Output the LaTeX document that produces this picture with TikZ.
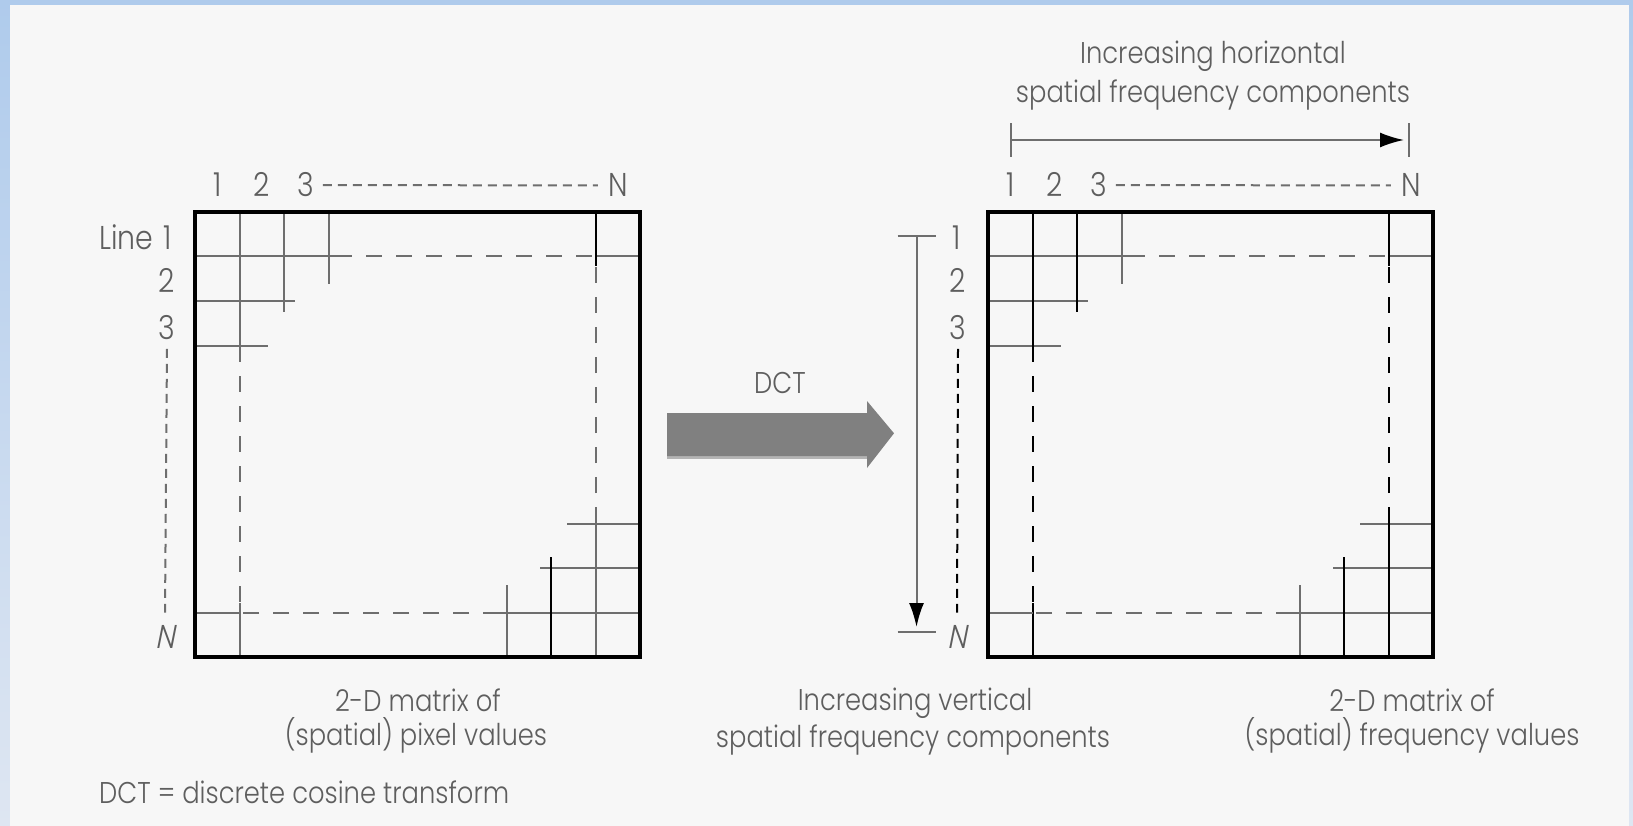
\documentclass[tikz,border=0pt]{standalone}
\usepackage{fontspec}
\usetikzlibrary{arrows.meta}
\IfFontExistsTF{Poppins Light}
  {\setmainfont{Poppins Light}[FakeStretch=0.86]
   \newfontfamily\slantfont{Poppins Light}[FakeStretch=0.86,FakeSlant=0.2]}
  {\setmainfont{Poppins}[FakeStretch=0.86]
   \newfontfamily\slantfont{Poppins}[FakeStretch=0.86,FakeSlant=0.2]}

\definecolor{bluetop}{HTML}{AFCBEC}
\definecolor{bluebot}{HTML}{DEE6F2}
\definecolor{bgfill}{HTML}{F7F7F7}
\definecolor{linegray}{HTML}{6E6E6E}
\definecolor{txtgray}{HTML}{5E5E5E}
\definecolor{arrowgray}{HTML}{808080}
\definecolor{shadowgray}{HTML}{B4B4B4}

% One N x N matrix with the staircase of cells in two corners.
% #1 = left edge, #2 = colour of the long column lines, #3 = colour of the last-column stub
\newcommand\dctmatrix[3]{%
\begin{scope}[shift={(#1,212)}]
  % top-left corner
  \draw[grid] (0,44.5) -- (157,44.5);
  \draw[gdash] (157,44.5) -- (400.5,44.5);
  \draw[grid] (400.5,44.5) -- (445,44.5);
  \draw[grid] (0,89) -- (100,89);
  \draw[grid] (0,133.5) -- (73,133.5);
  \draw[grid,#2] (44.5,0) -- (44.5,150);
  \draw[gdash,#2] (44.5,150) -- (44.5,391);
  \draw[grid,#2] (44.5,391) -- (44.5,445);
  \draw[grid,#2] (89,0) -- (89,100);
  \draw[grid] (133.5,0) -- (133.5,72);
  % bottom-right corner
  \draw[grid] (445,400.5) -- (288,400.5);
  \draw[gdash] (288,400.5) -- (44.5,400.5);
  \draw[grid] (44.5,400.5) -- (0,400.5);
  \draw[grid] (445,356) -- (345,356);
  \draw[grid] (445,311.5) -- (372,311.5);
  \draw[grid,#2] (400.5,445) -- (400.5,295);
  \draw[gdash,#2] (400.5,295) -- (400.5,54);
  \draw[grid,#3] (400.5,54) -- (400.5,0);
  \draw[grid,#3] (356,445) -- (356,345);
  \draw[grid] (311.5,445) -- (311.5,373);
  % outer frame
  \draw[frame] (0,0) rectangle (445,445);
\end{scope}}

\begin{document}
\begin{tikzpicture}[x=1pt,y=-1pt,
  txt/.style={text=txtgray, inner sep=0pt, anchor=base, font=\fontsize{30}{36}\selectfont},
  lab/.style={text=txtgray, inner sep=0pt, anchor=base, font=\fontsize{33}{38}\selectfont},
  slab/.style={lab, font=\fontsize{33}{38}\slantfont},
  grid/.style={line width=2pt, draw=linegray},
  gdash/.style={grid, dash pattern=on 16pt off 14pt, dash phase=16pt},
  frame/.style={line width=3.2pt, draw=black},
  ldash/.style={line width=2pt, dash pattern=on 9pt off 6pt},
  tick/.style={line width=2pt, draw=linegray},
  axis/.style={line width=2pt, draw=linegray,
    -{Latex[length=24pt,width=15pt,color=black]}},
]
% page background with the coloured rim
\fill[top color=bluetop, bottom color=bluebot] (0,0) rectangle (1633,826);
\fill[bgfill] (10,5) rectangle (1629,826);
\useasboundingbox (0,0) rectangle (1633,826);

% ---------- pixel matrix ----------
\dctmatrix{195}{linegray}{black}
\node[lab] (lc1) at (217.25,197) {1};
\node[lab] (lc2) at (261.75,197) {2};
\node[lab] (lc3) at (306.25,197) {3};
\node[lab] (lcN) at (617.75,197) {N};
\draw[ldash, draw=linegray] ([xshift=8pt]lc3.east) -- ([xshift=-10pt]lcN.west);
\node[lab, anchor=base east] (lr1) at (172,250) {Line\hspace{10pt}1};
\node[lab] (lr2) at (167,293) {2};
\node[lab] (lr3) at (167,339.5) {3};
\node[slab] (lrN) at (165,648) {N};
\draw[ldash, draw=linegray] ([yshift=-9pt]lr3.south) -- ([yshift=12pt]lrN.north);
\node[txt] (lcap1) at (418,711) {2-D matrix of};
\node[txt] (lcap2) at (416,745) {(spatial) pixel values};
\node[txt, anchor=base west] (note) at (99,803) {DCT = discrete cosine transform};

% ---------- transform arrow ----------
\fill[shadowgray] (667,455) rectangle (867,458.5);
\fill[arrowgray] (667,413) -- (867,413) -- (867,401) -- (894,433.3)
  -- (867,468) -- (867,456) -- (667,456) -- cycle;
\node[txt] (dct) at (780,393) {DCT};

% ---------- frequency matrix ----------
\dctmatrix{988}{black}{black}
\node[lab] (rc1) at (1010.25,197) {1};
\node[lab] (rc2) at (1054.75,197) {2};
\node[lab] (rc3) at (1099.25,197) {3};
\node[lab] (rcN) at (1410.75,197) {N};
\draw[ldash, draw=linegray] ([xshift=8pt]rc3.east) -- ([xshift=-10pt]rcN.west);
\node[lab] (rr1) at (957,250) {1};
\node[lab] (rr2) at (958,293) {2};
\node[lab] (rr3) at (958,339.5) {3};
\node[slab] (rrN) at (957,648) {N};
\draw[ldash, draw=black] ([yshift=-9pt]rr3.south) -- ([yshift=12pt]rrN.north);

% horizontal frequency axis
\node[txt] (hcap1) at (1213,63.5) {Increasing horizontal};
\node[txt] (hcap2) at (1213,103) {spatial frequency components};
\coordinate (hL) at (1010.5,140);
\coordinate (hR) at (1409,140);
\draw[tick] ([yshift=-17pt]hL) -- ([yshift=17pt]hL);
\draw[tick] ([yshift=-17pt]hR) -- ([yshift=17pt]hR);
\draw[axis] (hL) -- ([xshift=-5pt]hR);

% vertical frequency axis
\coordinate (vT) at (916.5,236);
\coordinate (vB) at (916.5,632);
\draw[tick] ([xshift=-19pt]vT) -- ([xshift=19pt]vT);
\draw[tick] ([xshift=-19pt]vB) -- ([xshift=19pt]vB);
\draw[axis] (vT) -- ([yshift=5pt]vB);
\node[txt] (vcap1) at (915,710) {Increasing vertical};
\node[txt] (vcap2) at (913,747) {spatial frequency components};
\node[txt] (rcap1) at (1412,711) {2-D matrix of};
\node[txt] (rcap2) at (1412,745) {(spatial) frequency values};
\end{tikzpicture}
\end{document}
